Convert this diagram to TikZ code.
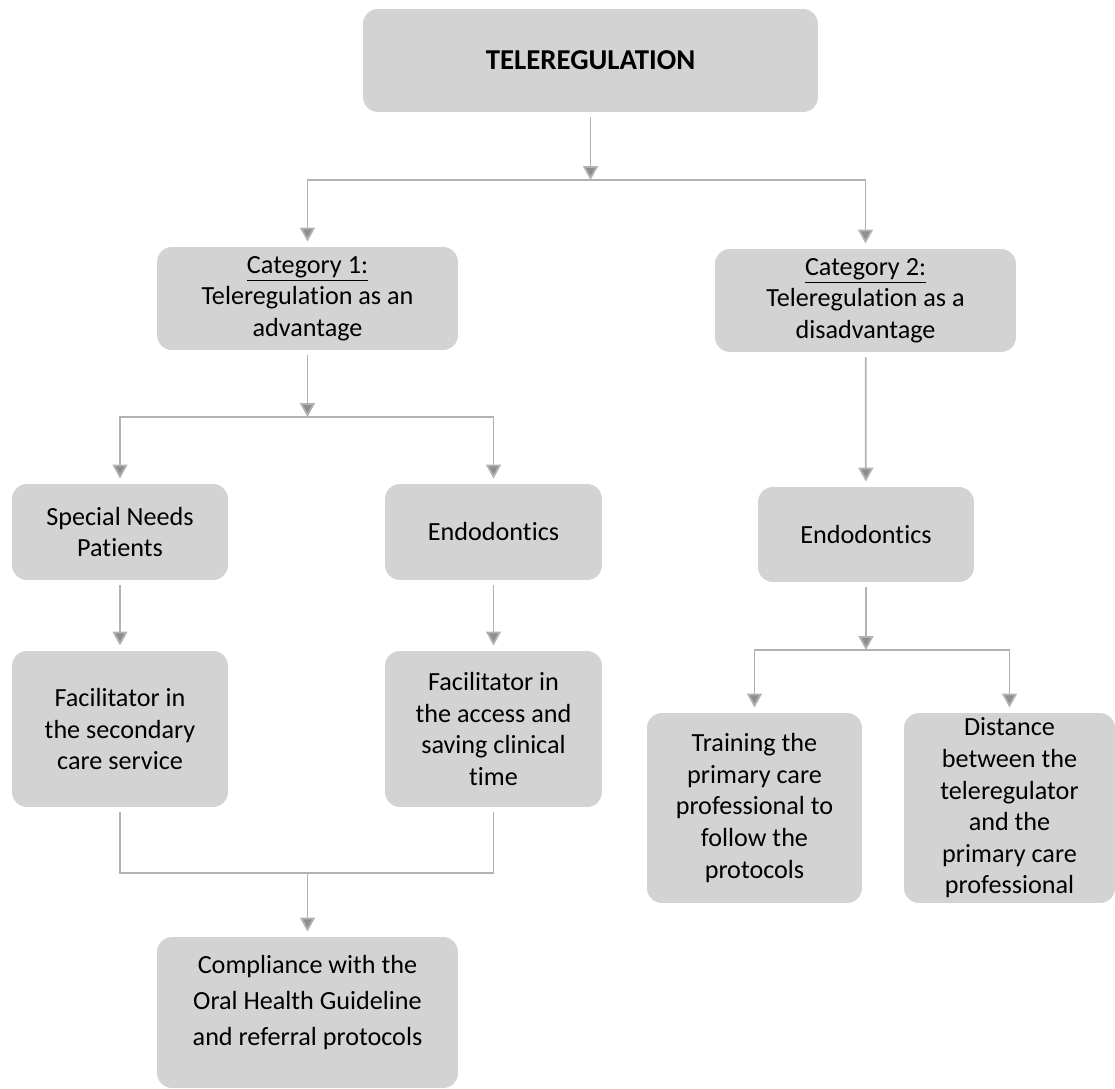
\documentclass[tikz,border=0pt]{standalone}
\usepackage{fontspec}
\setmainfont[Ligatures={NoCommon}]{Carlito}
\usepackage{xcolor}
\usepackage{tikz}
\usetikzlibrary{arrows.meta}
\definecolor{boxgray}{RGB}{211,211,211}
\definecolor{linegray}{RGB}{178,178,178}
\begin{document}
\begin{tikzpicture}[x=0.02cm, y=-0.02cm,
    box/.style={fill=boxgray, rounded corners=0.3cm, align=center, inner sep=0pt,
        outer sep=0.11cm, font=\fontsize{14.9}{18}\selectfont},
    arr/.style={draw=linegray, line width=1pt,
        -{Triangle[width=0.3cm,length=0.28cm,fill=linegray!80!black]}},
    ln/.style={draw=linegray, line width=1pt}]
    \useasboundingbox (0,0) rectangle (1115,1088);
    % boxes
    \node at (590.5,60.5) [box, minimum width=9.1cm, minimum height=2.06cm,
        font=\bfseries\fontsize{16.4}{19}\selectfont] (top) {TELEREGULATION};
    \node at (307.5,298.5) [box, minimum width=6.02cm, minimum height=2.06cm] (c1)
        {\underline{Category 1:}\\Teleregulation as an\\advantage};
    \node at (865.5,300.5) [box, minimum width=6.02cm, minimum height=2.06cm] (c2)
        {\underline{Category 2:}\\Teleregulation as a\\disadvantage};
    \node at (120,532) [box, minimum width=4.32cm, minimum height=1.92cm] (n1)
        {Special Needs\\Patients};
    \node at (493.5,532) [box, minimum width=4.34cm, minimum height=1.92cm] (e1)
        {Endodontics};
    \node at (866,534.5) [box, minimum width=4.32cm, minimum height=1.9cm] (e2)
        {Endodontics};
    \node at (120,729) [box, minimum width=4.32cm, minimum height=3.12cm] (f1)
        {Facilitator in\\the secondary\\care service};
    \node at (493.5,729) [box, minimum width=4.34cm, minimum height=3.12cm] (f2)
        {Facilitator in\\the access and\\saving clinical\\time};
    \node at (754.5,808) [box, minimum width=4.3cm, minimum height=3.8cm] (r1)
        {Training the\\primary care\\professional to\\follow the\\protocols};
    \node at (1009.5,808) [box, minimum width=4.22cm, minimum height=3.8cm] (r2)
        {Distance\\between the\\teleregulator\\and the\\primary care\\professional};
    \node at (307.5,1012.5) [box, minimum width=6.02cm, minimum height=3.02cm,
        font=\fontsize{14.9}{20.4}\selectfont] (g)
        {Compliance with the\\Oral Health Guideline\\and referral protocols\\[-7pt]\mbox{}};
    % junctions
    \coordinate (j1) at (590.5,180);
    \coordinate (j2) at (307.5,417);
    \coordinate (j3) at (866,650);
    \coordinate (j4) at (307.5,873);
    % connectors
    \draw[arr] (top) -- (j1);
    \draw[arr] (j1) -| (c1.north);
    \draw[arr] (j1) -| (c2.north);
    \draw[arr] (c1) -- (j2);
    \draw[arr] (j2) -| (n1.north);
    \draw[arr] (j2) -| (e1.north);
    \draw[arr] (c2) -- (e2);
    \draw[arr] (n1) -- (f1);
    \draw[arr] (e1) -- (f2);
    \draw[arr] (e2) -- (j3);
    \draw[arr] (j3) -| (r1.north);
    \draw[arr] (j3) -| (r2.north);
    \draw[ln] (f1.south) |- (j4);
    \draw[ln] (f2.south) |- (j4);
    \draw[arr] (j4) -- (g);
\end{tikzpicture}
\end{document}
